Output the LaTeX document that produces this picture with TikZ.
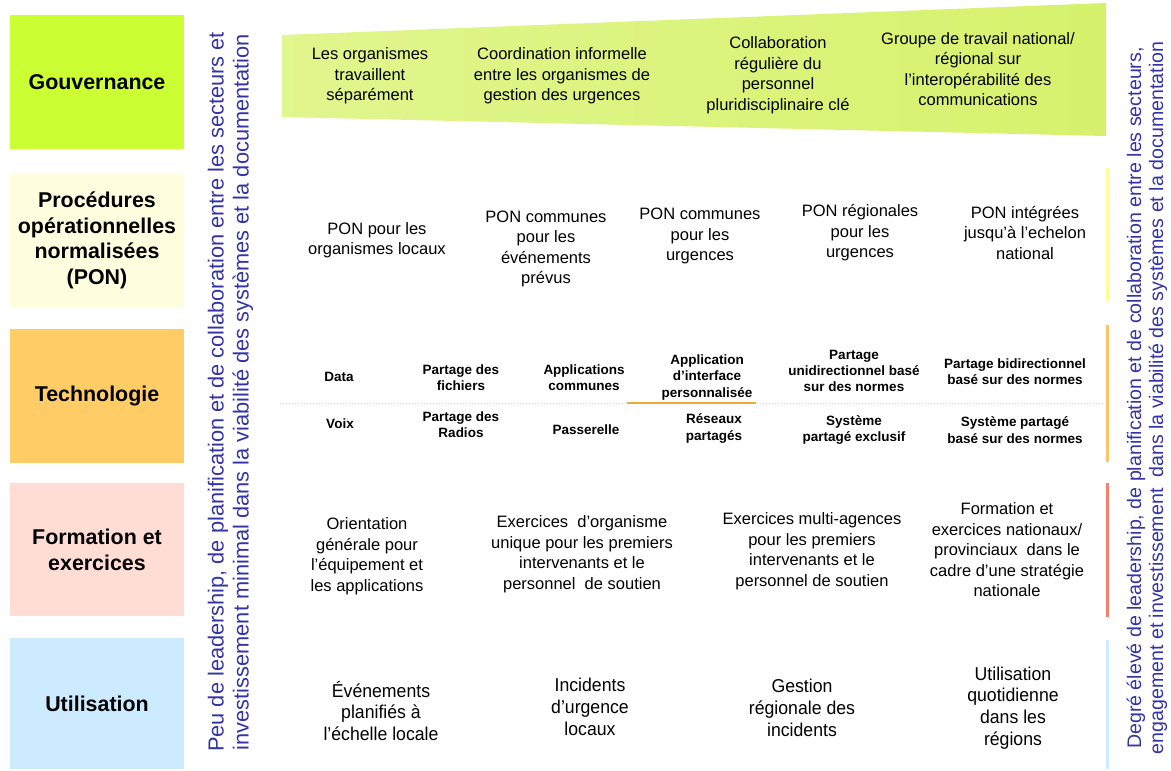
\documentclass[tikz,border=0pt]{standalone}
\usepackage{fontspec}
\setmainfont{Liberation Sans}
\newfontfamily\narrowsans[FakeStretch=0.95]{Liberation Sans}
\definecolor{gouvfill}{HTML}{CCFF33}
\definecolor{ponfill}{HTML}{FFFFE0}
\definecolor{techfill}{HTML}{FFCC66}
\definecolor{formfill}{HTML}{FFDDD4}
\definecolor{usefill}{HTML}{CCEBFF}
\definecolor{wedgeL}{HTML}{E0F68E}
\definecolor{wedgeR}{HTML}{D6F26C}
\definecolor{sidetext}{HTML}{3434A6}
\definecolor{baryellow}{HTML}{FFFF99}
\definecolor{barorange}{HTML}{FFC266}
\definecolor{barred}{HTML}{F4806C}
\definecolor{barblue}{HTML}{D2EAFF}
\definecolor{sepdot}{HTML}{E6D7A4}
\definecolor{seporange}{HTML}{F2A93A}
\begin{document}
\begin{tikzpicture}[x=1pt,y=-1pt,
  rowbox/.style={minimum width=174pt, inner sep=0pt, font=\fontsize{21.4}{25.7}\selectfont\bfseries, align=center},
  cell/.style={font=\fontsize{16.5}{20.5}\selectfont, align=center, inner sep=0pt},
  tech/.style={font=\fontsize{13.5}{16.3}\selectfont\bfseries, align=center, inner sep=0pt},
  usecell/.style={font=\narrowsans\fontsize{18.6}{21.8}\selectfont, align=center, inner sep=0pt},
  sideL/.style={font=\fontsize{21.8}{25}\selectfont, text=sidetext, rotate=90, align=center, inner sep=0pt},
  sideR/.style={font=\fontsize{19.6}{22}\selectfont, text=sidetext, rotate=90, align=center, inner sep=0pt},
  bar/.style={line width=3pt}
]
% page area
\fill[white] (0,0) rectangle (1171,769);

% row headings
\node[rowbox, fill=gouvfill, minimum height=134pt] (gouv) at (97,82) {Gouvernance};
\node[rowbox, fill=ponfill, minimum height=135pt] (pon) at (97,240.5) {Procédures\\opérationnelles\\normalisées\\(PON)};
\node[rowbox, fill=techfill, minimum height=134pt] (tech) at (97,396) {Technologie};
\node[rowbox, fill=formfill, minimum height=133pt] (form) at (97,549.5) {Formation et\\exercices};
\node[rowbox, fill=usefill, minimum height=131pt] (use) at (97,703.5) {Utilisation};

% side captions
\node[sideL] (lowend) at (230.5,392) {Peu de leadership, de planification et de collaboration entre les secteurs et\\investissement minimal dans la viabilité des systèmes et la documentation};
\node[sideR] (highend) at (1147,398) {Degré élevé de leadership, de planification et de collaboration entre les secteurs,\\engagement et investissement\ \ dans la viabilité des systèmes et la documentation};

% governance wedge
\shade[left color=wedgeL, right color=wedgeR] (282,35) -- (1106,3) -- (1106,136) -- (282,117) -- cycle;
\node[cell] (g1) at (370,76) {Les organismes\\travaillent\\séparément};
\node[cell] (g2) at (562,76) {Coordination informelle\\entre les organismes de\\gestion des urgences};
\node[cell] (g3) at (778,75) {Collaboration\\régulière du\\personnel\\pluridisciplinaire clé};
\node[cell] (g4) at (978,69) {Groupe de travail national/\\régional sur\\l’interopérabilité des\\communications};

% SOP row
\node[cell] (p1) at (377,240) {PON pour les\\organismes locaux};
\node[cell] (p2) at (546,249) {PON communes\\pour les\\événements\\prévus};
\node[cell] (p3) at (700,236) {PON communes\\pour les\\urgences};
\node[cell] (p4) at (860,233) {PON régionales\\pour les\\urgences};
\node[cell] (p5) at (1025,233) {PON intégrées\\jusqu’à l’echelon\\national};

% technology row: data above, voice below
\draw[sepdot, line width=1pt, dotted] (280,403) -- (1105,403);
\draw[seporange, line width=1.6pt] (627,403) -- (756,403);
\node[tech] (tdata) at (339,377) {Data};
\node[tech] (d1) at (461,378) {Partage des\\fichiers};
\node[tech] (d2) at (584,378) {Applications\\communes};
\node[tech] (d3) at (707,377.5) {Application\\d’interface\\personnalisée};
\node[tech] (d4) at (854,371) {Partage\\unidirectionnel basé\\sur des normes};
\node[tech] (d5) at (1015,372) {Partage bidirectionnel\\basé sur des normes};
\node[tech] (tvoice) at (340,424) {Voix};
\node[tech] (v1) at (461,424.5) {Partage des\\Radios};
\node[tech] (v2) at (586,430) {Passerelle};
\node[tech] (v3) at (714,428.5) {Réseaux\\partagés};
\node[tech] (v4) at (854,430) {Système\\partagé exclusif};
\node[tech] (v5) at (1015,430) {Système partagé\\basé sur des normes};

% training row
\node[cell] (f1) at (367,556) {Orientation\\générale pour\\l’équipement et\\les applications};
\node[cell] (f2) at (582,554) {Exercices\ \ d’organisme\\unique pour les premiers\\intervenants et le\\personnel\ \ de soutien};
\node[cell] (f3) at (812,551) {Exercices multi-agences\\pour les premiers\\intervenants et le\\personnel de soutien};
\node[cell] (f4) at (1007,550) {Formation et\\exercices nationaux/\\provinciaux\ \ dans le\\cadre d’une stratégie\\nationale};

% usage row
\node[usecell] (u1) at (381,711) {Événements\\planifiés à\\l’échelle locale};
\node[usecell] (u2) at (590,707) {Incidents\\d’urgence\\locaux};
\node[usecell] (u3) at (802,708) {Gestion\\régionale des\\incidents};
\node[usecell] (u4) at (1013,708) {Utilisation\\quotidienne\\dans les\\régions};

% right-hand level bars
\draw[bar, baryellow] (1107,168) -- (1107,302);
\draw[bar, barorange] (1107,325) -- (1107,462);
\draw[bar, barred] (1107,483) -- (1107,617);
\draw[bar, barblue] (1107,640) -- (1107,769);
\end{tikzpicture}
\end{document}
